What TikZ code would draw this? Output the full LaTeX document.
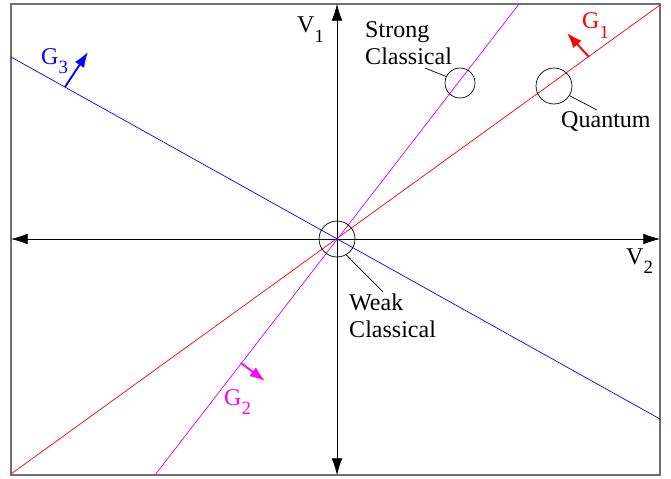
\documentclass[tikz,border=0pt]{standalone}
\usepackage{fontspec}
\setmainfont{Liberation Serif}
\usetikzlibrary{arrows.meta, positioning, calc}
\definecolor{FrameGray}{HTML}{707070}
\definecolor{LineRed}{HTML}{FF0000}
\definecolor{LineMag}{HTML}{CC00FF}
\definecolor{TagMag}{HTML}{FF00FF}
\definecolor{LineBlue}{HTML}{0000FF}
\newcommand{\lowidx}[1]{\raisebox{-8pt}{\fontsize{16}{16}\selectfont #1}}
\tikzset{
  frame/.style={draw=FrameGray, line width=1.2pt},
  axis/.style={{Latex[length=5mm, width=3.2mm]}-{Latex[length=5mm, width=3.2mm]}, line width=0.6pt, draw=black},
  gline/.style={line width=0.6pt},
  garrow/.style={-{Latex[length=4.6mm, width=3.3mm]}, line width=1.6pt},
  ring/.style={circle, draw=black, line width=0.6pt, inner sep=0pt},
  pointer/.style={draw=black, line width=0.6pt},
  lbl/.style={inner sep=0pt, align=left, font=\fontsize{20.5}{23}\selectfont},
  tag/.style={inner sep=0pt, font=\fontsize{20.5}{23}\selectfont}
}
\begin{document}
\begin{tikzpicture}[x=0.03cm, y=-0.03cm]
\useasboundingbox (0,0) rectangle (671,479);
\draw[frame] (11,4) rectangle (660,475);

% axes
\coordinate (O) at (337,239);
\coordinate (xl) at (11,239);
\coordinate (xr) at (660,239);
\coordinate (yt) at (337,4);
\coordinate (yb) at (337,475);
\draw[axis] (xl) -- (xr);
\draw[axis] (yb) -- (yt);
\node[tag, anchor=base west] (v1) at (297,33) {V\lowidx{1}};
\node[tag, anchor=base west] (v2) at (626,264) {V\lowidx{2}};

% the three lines
\coordinate (r1) at (11,474);
\coordinate (r2) at (660,5);
\coordinate (m1) at (155,475);
\coordinate (m2) at (519,4);
\coordinate (b1) at (11,57);
\coordinate (b2) at (660,419);
\draw[gline, LineRed] (r1) -- (r2);
\draw[gline, LineMag] (m1) -- (m2);
\draw[gline, LineBlue] (b1) -- (b2);

% normals
\coordinate (g1s) at (589,57);
\coordinate (g1e) at (567,33);
\coordinate (g2s) at (241,363);
\coordinate (g2e) at (265,381);
\coordinate (g3s) at (65,87);
\coordinate (g3e) at (88,52);
\draw[garrow, LineRed] (g1s) -- (g1e);
\draw[garrow, TagMag] (g2s) -- (g2e);
\draw[garrow, LineBlue] (g3s) -- (g3e);
\node[tag, anchor=base west, text=LineRed] (g1) at (582,29) {G\lowidx{1}};
\node[tag, anchor=base west, text=TagMag] (g2) at (224,405) {G\lowidx{2}};
\node[tag, anchor=base west, text=LineBlue] (g3) at (41,64) {G\lowidx{3}};

% marked regions
\node[ring, minimum size=1.08cm] (weak) at (O) {};
\node[ring, minimum size=0.9cm] (strong) at (460,83) {};
\node[ring, minimum size=1.08cm] (quant) at (554,86) {};

\node[lbl, anchor=north west] (weaklbl) at (349,294) {Weak\\Classical};
\node[lbl, anchor=north west] (stronglbl) at (365,21) {Strong\\Classical};
\node[lbl, anchor=base west] (quantlbl) at (561,127) {Quantum};

\coordinate (weakend) at (383,292);
\coordinate (strongend) at (425,68);
\coordinate (quantend) at (597,110);
\draw[pointer] (weak.-60) -- (weakend);
\draw[pointer] (strongend) -- (strong.155);
\draw[pointer] (quant.-32) -- (quantend);
\end{tikzpicture}
\end{document}
